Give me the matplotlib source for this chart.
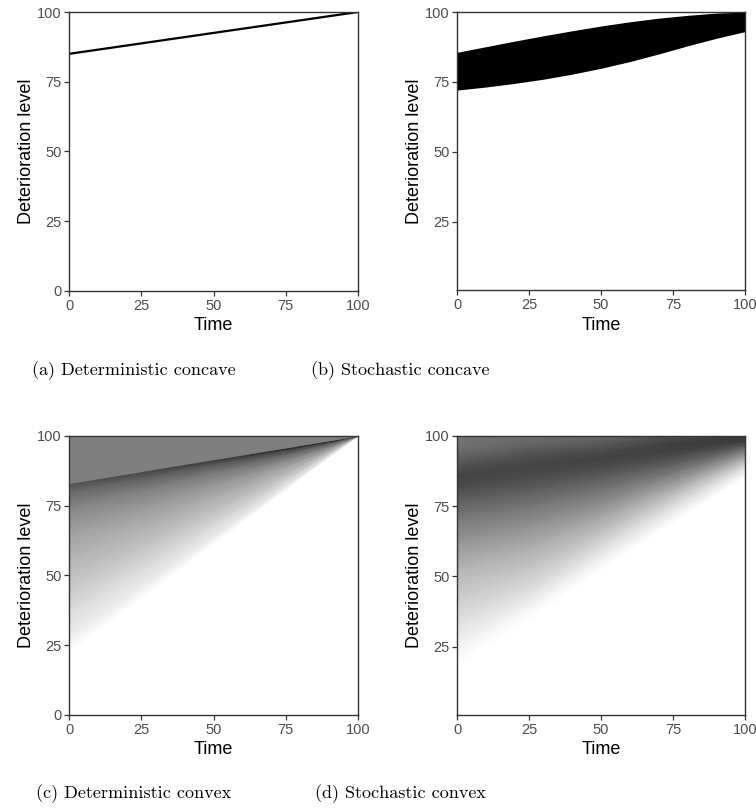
import numpy as np
import matplotlib
matplotlib.use("Agg")
import matplotlib.pyplot as plt

# (a) deterministic concave: single path
det_concave_x = [0, 100]
det_concave_y = [85, 100]

# (b) stochastic concave: band of paths
sto_concave_x = [0, 10, 20, 30, 40, 50, 60, 70, 80, 90, 100]
sto_concave_hi = [85.6, 87.6, 89.6, 91.5, 93.3, 95.0, 96.5, 97.8, 98.8, 99.6, 100]
sto_concave_lo = [72.1, 73.2, 74.5, 76.0, 77.8, 79.9, 82.3, 85.0, 87.9, 90.6, 93.0]

# (c) deterministic convex: shading (grey level 0-255) at nodes along columns
det_convex_x = [0, 25, 50, 75, 100]
det_convex_y = [
    [0, 22, 28, 37, 46, 55.5, 64.7, 73.9, 80, 83, 83, 100],
    [0, 41.5, 46, 52.75, 59.5, 66.6, 73.5, 80.4, 85, 87.25, 87.25, 100],
    [0, 61, 64, 68.5, 73, 77.75, 82.35, 87, 90, 91.5, 91.5, 100],
    [0, 80.5, 82, 84.25, 86.5, 88.9, 91.2, 93.5, 95, 95.75, 95.75, 100],
    [0, 100, 100, 100, 100, 100, 100, 100, 100, 100, 100, 100],
]
det_convex_grey = [
    [255, 255, 238, 220, 200, 182, 162, 135, 105, 78, 127, 127],
    [255, 255, 236, 218, 197, 178, 157, 128, 95, 68, 127, 127],
    [255, 255, 234, 214, 193, 174, 152, 120, 85, 55, 127, 127],
    [255, 255, 230, 208, 186, 164, 138, 100, 65, 35, 127, 127],
    [255, 255, 230, 200, 170, 140, 110, 80, 40, 0, 127, 127],
]

# (d) stochastic convex
sto_convex_x = [0, 25, 50, 75, 100]
sto_convex_y = [
    [0, 18, 24, 32, 42, 52, 62, 70, 77, 82, 86, 90, 95, 100],
    [0, 34, 38, 44, 52, 60, 68, 75, 81, 86, 89, 92, 96, 100],
    [0, 52, 56, 61, 66, 71, 76, 81, 85, 89, 92, 94, 97, 100],
    [0, 69, 72, 75, 78, 81, 84, 87, 90, 93, 95, 97, 98.5, 100],
    [0, 85, 87, 88.5, 90, 91.5, 93, 94.5, 96, 97, 98, 99, 99.5, 100],
]
sto_convex_grey = [
    [255, 255, 245, 228, 205, 182, 150, 123, 95, 75, 68, 85, 110, 118],
    [255, 255, 248, 225, 200, 175, 145, 118, 92, 74, 68, 75, 95, 112],
    [255, 255, 242, 218, 192, 168, 140, 115, 95, 75, 66, 72, 88, 105],
    [255, 255, 240, 222, 200, 175, 148, 120, 95, 75, 64, 62, 68, 80],
    [255, 255, 240, 225, 205, 182, 155, 128, 100, 80, 65, 58, 56, 55],
]

ticks = [0, 25, 50, 75, 100]
captions = ["(a) Deterministic concave", "(b) Stochastic concave",
            "(c) Deterministic convex", "(d) Stochastic convex"]

plt.rcParams['font.family'] = ['Liberation Sans', 'DejaVu Sans']

fig = plt.figure(figsize=(7.56, 8.11), dpi=100)
ax_a = fig.add_axes([0.0913, 0.6412, 0.3823, 0.3440])
ax_b = fig.add_axes([0.6045, 0.6424, 0.3810, 0.3428])
ax_c = fig.add_axes([0.0913, 0.1184, 0.3823, 0.3440])
ax_d = fig.add_axes([0.6045, 0.1184, 0.3810, 0.3440])


def style(ax, low):
    ax.set_xlim(0, 100)
    ax.set_ylim(low, 100)
    ax.set_xticks(ticks)
    ax.set_yticks([t for t in ticks if t >= low])
    for s in ax.spines.values():
        s.set_color('#333333')
        s.set_linewidth(1.0)
    ax.tick_params(direction='out', length=3.5, width=0.9, color='#333333',
                   labelcolor='#4D4D4D', labelsize=10.5, pad=2)
    ax.set_xlabel('Time', fontsize=13, labelpad=3.5)
    ax.set_ylabel('Deterioration level', fontsize=13, labelpad=1)


ax_a.plot(det_concave_x, det_concave_y, color='black', lw=1.6)
style(ax_a, 0)

ax_b.fill_between(sto_concave_x, sto_concave_lo, sto_concave_hi, color='black', lw=0)
style(ax_b, 0.7)

X = np.repeat(np.array(det_convex_x, float)[:, None], len(det_convex_y[0]), axis=1)
ax_c.pcolormesh(X.T, np.array(det_convex_y).T, np.array(det_convex_grey).T,
                shading='gouraud', cmap='gray', vmin=0, vmax=255)
style(ax_c, 0)

X = np.repeat(np.array(sto_convex_x, float)[:, None], len(sto_convex_y[0]), axis=1)
ax_d.pcolormesh(X.T, np.array(sto_convex_y).T, np.array(sto_convex_grey).T,
                shading='gouraud', cmap='gray', vmin=0, vmax=255)
style(ax_d, 0.7)

for ax in (ax_a, ax_b, ax_c, ax_d):
    ax.set_axisbelow(False)

cap_pos = [(0.177, 0.5425), (0.530, 0.5425), (0.177, 0.021), (0.530, 0.021)]
for (x, y), txt in zip(cap_pos, captions):
    fig.text(x, y, txt, ha='center', va='center', fontsize=13, family='cmr10')

fig.savefig('out.png', dpi=100)
